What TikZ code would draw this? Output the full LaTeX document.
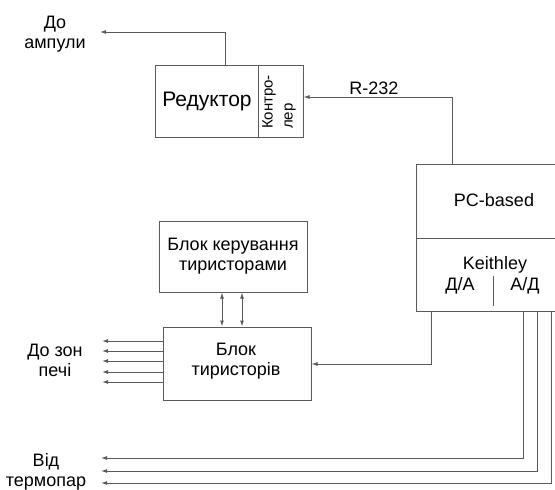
\documentclass[tikz,border=0pt]{standalone}
\usepackage{fontspec}
\setmainfont{Liberation Sans}
\usetikzlibrary{arrows.meta}
\definecolor{linec}{HTML}{5A5A5A}
\tikzset{
  ln/.style={draw=linec, line width=1pt},
  arr/.style={ln, -{Latex[length=6pt,width=4pt]}},
  darr/.style={ln, {Latex[length=6pt,width=4pt]}-{Latex[length=6pt,width=4pt]}},
  box/.style={ln, inner sep=0pt},
  txt/.style={font=\fontsize{18}{20}\selectfont, align=center, inner sep=0pt},
}
\begin{document}
\begin{tikzpicture}[x=1pt,y=-1pt]
\useasboundingbox (0,0) rectangle (555,490);
% boxes
\node[box, minimum width=148pt, minimum height=72pt] (red) at (229,101) {};
\node[box, minimum width=148pt, minimum height=71pt] (kbt) at (233,256.5) {};
\node[box, minimum width=148pt, minimum height=73pt] (tyr) at (237,363.5) {};
\node[inner sep=0pt, minimum width=138pt, minimum height=146pt] (pc) at (486,238) {};
\draw[ln] (pc.north east) -- (pc.north west) -- (pc.south west) -- (pc.south east);
\coordinate (pcd) at (417,238);
\draw[ln] (pcd) -- (pc.east |- pcd);
\coordinate (kd1) at (493,276);
\coordinate (kd2) at (493,306);
\draw[ln] (kd1) -- (kd2);
\draw[ln] ([xshift=104pt]red.north west) -- ([xshift=104pt]red.south west);
% texts
\node[txt, font=\fontsize{21}{24}\selectfont] (redt) at (207,101) {Редуктор};
\node[txt, font=\fontsize{15}{20}\selectfont, align=left, rotate=90] (ctl) at (279,102) {Контро-\\лер};
\node[txt] (kbtt) at (233,256) {Блок керування\\тиристорами};
\node[txt] (tyrt) at (236,361) {Блок\\тиристорів};
\node[txt] (pct) at (494,200) {PC-based};
\node[txt] (kt) at (495,265) {Keithley};
\node[txt] (dat) at (460,286) {Д/А};
\node[txt] (adt) at (525,286) {А/Д};
\node[txt] (ampt) at (55,34) {До\\ампули};
\node[txt] (zont) at (55,360) {До зон\\печі};
\node[txt] (vidt) at (46,472) {Від\\термопар};
% connectors
\coordinate (amp) at (100,32);
\draw[arr] ([xshift=-4pt]red.north) |- (amp);
\coordinate (rs) at (452,97);
\draw[arr] (pc.north -| rs) |- (red.east |- rs);
\node[txt, anchor=south] (r232) at (374,95) {R-232};
\coordinate (da) at (431,364);
\draw[arr] (pc.south -| da) |- (tyr.east |- da);
\coordinate (a1) at (222,310);
\coordinate (a2) at (242,310);
\draw[darr] (kbt.south -| a1) -- (tyr.north -| a1);
\draw[darr] (kbt.south -| a2) -- (tyr.north -| a2);
\foreach \i/\yy in {1/341,2/351,3/361,4/372,5/382} {
  \coordinate (z\i) at (102,\yy);
  \draw[arr] (tyr.west |- z\i) -- (z\i);
}
\coordinate (t1) at (523,458);
\coordinate (t2) at (537,471);
\coordinate (t3) at (551,483);
\coordinate (v1) at (101,458);
\coordinate (v2) at (101,471);
\coordinate (v3) at (101,483);
\draw[arr] (pc.south -| t1) |- (v1);
\draw[arr] (pc.south -| t2) |- (v2);
\draw[arr] (pc.south -| t3) |- (v3);
\end{tikzpicture}
\end{document}
